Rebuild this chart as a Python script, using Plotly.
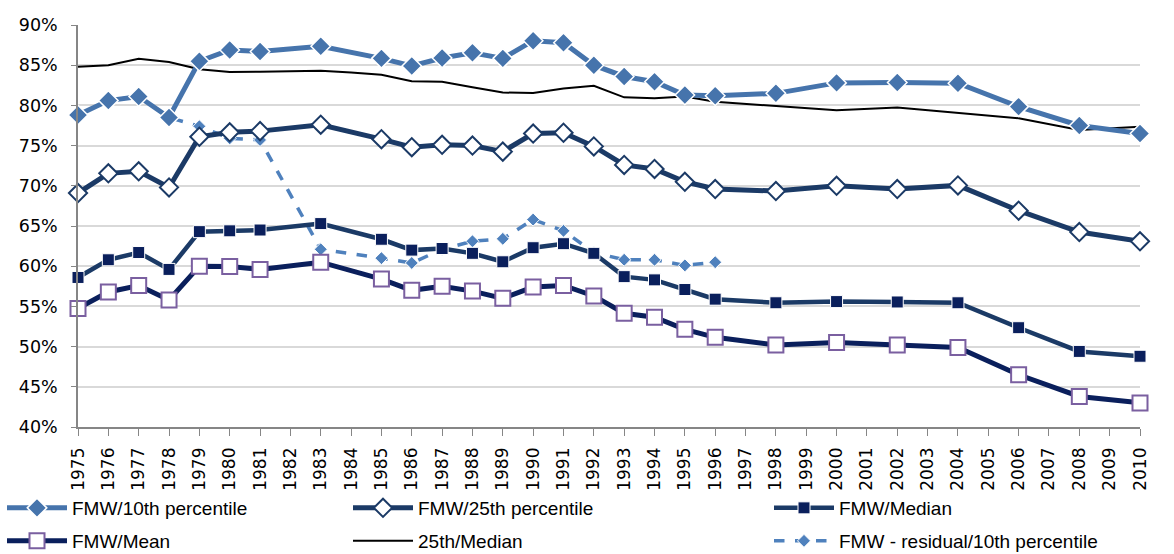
import plotly.graph_objects as go

years_main = [1975, 1976, 1977, 1978, 1979, 1980, 1981, 1983, 1985, 1986, 1987, 1988, 1989,
              1990, 1991, 1992, 1993, 1994, 1995, 1996, 1998, 2000, 2002, 2004, 2006, 2008, 2010]
p10 = [78.8, 80.6, 81.1, 78.5, 85.5, 86.9, 86.7, 87.35, 85.85, 84.9, 85.9, 86.55, 85.85,
       88.05, 87.8, 85.0, 83.6, 82.95, 81.3, 81.2, 81.5, 82.8, 82.85, 82.75, 79.85, 77.5, 76.5]
p25 = [69.1, 71.55, 71.8, 69.8, 76.1, 76.65, 76.8, 77.6, 75.8, 74.8, 75.1, 75.0, 74.25,
       76.5, 76.6, 74.9, 72.6, 72.1, 70.5, 69.6, 69.35, 70.0, 69.6, 70.05, 66.9, 64.25, 63.1]
median = [58.6, 60.8, 61.7, 59.6, 64.3, 64.4, 64.5, 65.3, 63.35, 62.0, 62.2, 61.6, 60.55,
          62.3, 62.8, 61.6, 58.7, 58.3, 57.1, 55.9, 55.45, 55.6, 55.55, 55.45, 52.35, 49.4, 48.8]
mean = [54.75, 56.8, 57.6, 55.8, 60.0, 59.95, 59.6, 60.5, 58.4, 57.0, 57.5, 56.9, 56.0,
        57.4, 57.6, 56.3, 54.15, 53.65, 52.15, 51.15, 50.2, 50.5, 50.2, 49.9, 46.5, 43.8, 43.0]

years_ratio = [1975, 1976, 1977, 1978, 1979, 1980, 1981, 1982, 1983, 1984, 1985, 1986, 1987,
               1988, 1989, 1990, 1991, 1992, 1993, 1994, 1995, 1996, 1998, 2000, 2002, 2004,
               2006, 2008, 2010]
ratio_25_med = [84.8, 85.0, 85.8, 85.4, 84.5, 84.15, 84.2, 84.25, 84.3, 84.1, 83.8, 83.0, 82.95,
                82.25, 81.6, 81.55, 82.1, 82.45, 81.0, 80.9, 81.1, 80.45, 79.9, 79.4, 79.75,
                79.1, 78.4, 76.95, 77.35]

years_resid = [1975, 1976, 1977, 1978, 1979, 1980, 1981, 1983, 1985, 1986, 1987, 1988, 1989,
               1990, 1991, 1992, 1993, 1994, 1995, 1996]
resid = [78.8, 80.6, 81.1, 78.5, 77.4, 75.9, 75.7, 62.1, 61.0, 60.4, 62.1, 63.1, 63.4,
         65.8, 64.4, 61.7, 60.8, 60.8, 60.1, 60.5]

all_years = list(range(1975, 2011))
y_ticks = list(range(40, 95, 5))

AXFONT = "DejaVu Sans, Verdana, sans-serif"
LGFONT = "Liberation Sans, Arial, sans-serif"

W, H = 1174, 554

fig = go.Figure()

# residual drawn first so the solid 10th percentile line sits on top where they overlap
fig.add_trace(go.Scatter(
    x=years_resid, y=resid, name="FMW - residual/10th percentile", mode="lines+markers",
    line=dict(color="#4F81BD", width=3.5, dash="dash"),
    marker=dict(symbol="diamond", size=10, color="#4F81BD", line=dict(color="white", width=1)),
    cliponaxis=False, legend="legend6"))
fig.add_trace(go.Scatter(
    x=years_ratio, y=ratio_25_med, name="25th/Median", mode="lines",
    line=dict(color="black", width=2),
    cliponaxis=False, legend="legend5"))
fig.add_trace(go.Scatter(
    x=years_main, y=p10, name="FMW/10th percentile", mode="lines+markers",
    line=dict(color="#4674AC", width=5),
    marker=dict(symbol="diamond", size=15, color="#4674AC", line=dict(color="white", width=1.5)),
    cliponaxis=False, legend="legend"))
fig.add_trace(go.Scatter(
    x=years_main, y=p25, name="FMW/25th percentile", mode="lines+markers",
    line=dict(color="#1B3A66", width=5),
    marker=dict(symbol="diamond", size=14, color="white", line=dict(color="#1B3A66", width=2)),
    cliponaxis=False, legend="legend2"))
fig.add_trace(go.Scatter(
    x=years_main, y=median, name="FMW/Median", mode="lines+markers",
    line=dict(color="#1B3A66", width=4.5),
    marker=dict(symbol="square", size=12, color="#0A1F5C", line=dict(color="white", width=1)),
    cliponaxis=False, legend="legend3"))
fig.add_trace(go.Scatter(
    x=years_main, y=mean, name="FMW/Mean", mode="lines+markers",
    line=dict(color="#0A1F5C", width=5),
    marker=dict(symbol="square", size=15, color="white", line=dict(color="#7A5FA0", width=2)),
    cliponaxis=False, legend="legend4"))


def leg(xpx, ypx):
    return dict(
        xref="container", yref="container",
        x=xpx / W, xanchor="left", y=1 - ypx / H, yanchor="middle",
        font=dict(size=19, family=LGFONT, color="black"), itemwidth=60,
        bgcolor="rgba(0,0,0,0)", borderwidth=0)


fig.update_layout(
    width=W, height=H,
    margin=dict(l=78, r=34, t=25, b=127, autoexpand=False),
    paper_bgcolor="white", plot_bgcolor="white",
    font=dict(family=AXFONT, color="black"),
    showlegend=True,
    legend=leg(2, 508), legend2=leg(348, 508), legend3=leg(769, 508),
    legend4=leg(2, 541), legend5=leg(348, 541), legend6=leg(769, 541),
    xaxis=dict(
        type="linear", range=[1975, 2010], tickmode="array", tickvals=all_years,
        ticktext=[str(y) for y in all_years], tickangle=-90,
        tickfont=dict(size=17, family=AXFONT, color="black"), showgrid=False, zeroline=False,
        showline=True, linecolor="#868686", linewidth=1.5,
        ticks="outside", ticklen=7, tickcolor="#868686", ticklabelstandoff=5),
    yaxis=dict(
        range=[40, 90], tickmode="array", tickvals=y_ticks,
        ticktext=[f"{v}%" for v in y_ticks],
        tickfont=dict(size=17.5, family=AXFONT, color="black"), showgrid=True,
        gridcolor="#D9D9D9", gridwidth=1.5,
        zeroline=False, showline=True, linecolor="#868686", linewidth=1.5,
        ticks="outside", ticklen=5, tickcolor="#868686", ticklabelstandoff=10),
)

fig.write_html(
    "out.html",
    config={"displayModeBar": False},
    post_script="document.body.style.margin='0px';document.body.style.overflow='hidden';",
)
